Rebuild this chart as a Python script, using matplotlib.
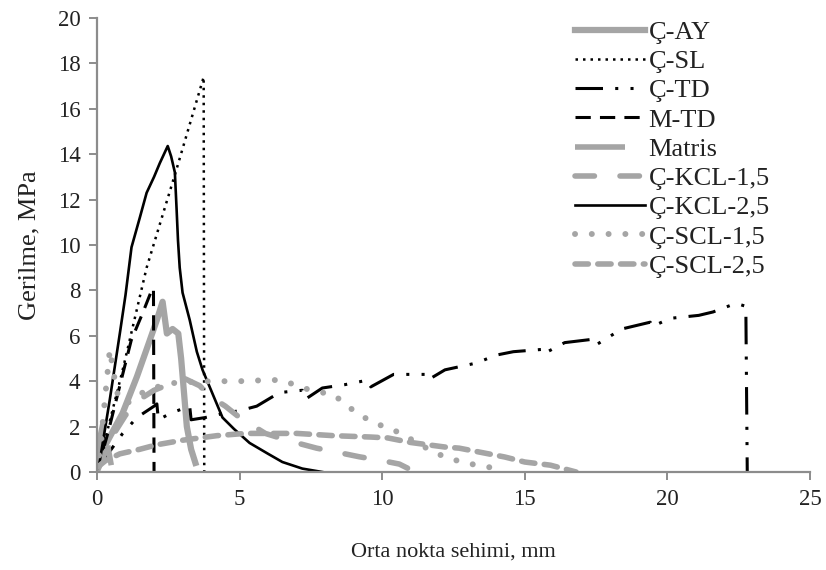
import matplotlib.pyplot as plt

plt.rcParams['font.family'] = ['Liberation Serif', 'DejaVu Serif']

GRAY = '#a5a5a5'
AXC = '#8c8c8c'
TXT = '#222222'

# Ç-AY
ay_x = [0, 0.3, 0.9, 1.4, 1.85, 2.1, 2.3, 2.45, 2.65, 2.85, 2.95, 3.05, 3.15, 3.3, 3.45]
ay_y = [0.3, 1.2, 2.6, 4.2, 5.8, 6.7, 7.5, 6.1, 6.3, 6.1, 5.0, 3.5, 2.0, 1.0, 0.4]
# Ç-SL
sl_x = [0, 0.2, 0.92, 1.74, 2.78, 3.74, 3.76]
sl_y = [0, 1.0, 4.6, 9.0, 13.3, 17.4, 0]
# Ç-TD
td_x = [0, 0.5, 0.9, 1.4, 2.0, 2.1, 2.15, 2.6, 3.25, 3.3, 3.8, 4.5, 5.0, 5.6, 6.4, 7.2, 7.3,
        7.9, 8.7, 9.5, 9.6, 10.4, 11.5, 11.6, 12.2, 13.3, 14.0, 14.6, 15.6, 15.65, 16.4,
        17.4, 17.5, 18.4, 19.4, 19.45, 20.1, 21.1, 21.6, 22.4, 22.75, 22.8]
td_y = [0.2, 1.0, 1.7, 2.4, 2.9, 3.0, 2.3, 2.6, 2.9, 2.3, 2.4, 2.6, 2.7, 2.9, 3.5, 3.6, 3.2,
        3.7, 3.85, 4.05, 3.75, 4.3, 4.3, 4.05, 4.5, 4.8, 5.15, 5.3, 5.4, 5.2, 5.7,
        5.85, 5.6, 6.3, 6.6, 6.4, 6.77, 6.9, 7.05, 7.43, 7.3, 0]
# M-TD
mtd_x = [0, 0.4, 0.8, 1.2, 1.6, 1.9, 1.98, 2.0]
mtd_y = [0, 1.8, 3.8, 5.8, 7.0, 7.95, 8.1, 0]
# Matris
mat_x = [0, 0.1, 0.2, 0.3, 0.4, 0.5]
mat_y = [0, 1.5, 2.1, 1.8, 1.0, 0.3]
# Ç-KCL-1,5
kcl15_x = [0, 0.5, 1.0, 1.5, 2.0, 2.6, 3.1, 3.6, 4.0, 4.5, 5.0, 5.9, 6.8, 7.7, 8.5, 9.2,
           10.0, 10.6, 11.0]
kcl15_y = [0, 1.5, 2.5, 3.2, 3.6, 3.9, 4.1, 3.8, 3.3, 2.9, 2.4, 1.7, 1.35, 1.05, 0.85, 0.67,
           0.5, 0.35, 0.1]
# Ç-KCL-2,5
kcl25_x = [0, 0.1, 0.45, 0.8, 1.0, 1.21, 1.5, 1.74, 2.0, 2.2, 2.48, 2.6, 2.73, 2.79, 2.84,
           2.9, 3.0, 3.25, 3.5, 3.7, 4.0, 4.4, 4.8, 5.35, 6.0, 6.5, 7.2, 7.9]
kcl25_y = [0, 0.5, 3.2, 6.1, 7.8, 9.9, 11.2, 12.3, 13.0, 13.6, 14.36, 13.9, 13.2, 11.6, 10.2,
           9.0, 7.9, 6.7, 5.3, 4.5, 3.6, 2.4, 1.9, 1.28, 0.8, 0.44, 0.15, 0.0]
# Ç-SCL-1,5
scl15_x = [0, 0.15, 0.3, 0.45, 0.55, 0.7, 1.0, 1.3, 1.6, 2.0, 2.5, 3.0, 4.0, 5.0, 6.0, 6.5,
           7.0, 7.5, 8.3, 8.8, 9.2, 9.8, 10.2, 10.6, 11.2, 11.7, 12.2, 12.9, 13.8, 14.1]
scl15_y = [0, 1.5, 3.5, 5.4, 4.6, 3.5, 3.0, 3.2, 3.5, 3.7, 3.9, 3.95, 4.0, 4.0, 4.05, 4.05,
           3.8, 3.6, 3.4, 2.9, 2.5, 2.15, 1.9, 1.75, 1.3, 0.95, 0.66, 0.4, 0.2, 0.05]
# Ç-SCL-2,5
scl25_x = [0, 0.3, 0.8, 1.5, 2.1, 3.0, 3.6, 4.2, 5.2, 6.0, 7.0, 8.3, 9.6, 10.2, 11.0, 12.2,
           12.7, 13.4, 14.3, 15.0, 15.9, 16.5, 16.8]
scl25_y = [0.2, 0.5, 0.8, 1.0, 1.2, 1.4, 1.5, 1.6, 1.7, 1.7, 1.7, 1.6, 1.54, 1.5, 1.3, 1.1,
           1.05, 0.88, 0.66, 0.44, 0.3, 0.1, 0.0]

fig = plt.figure(figsize=(8.26, 5.7), dpi=100)
ax = fig.add_axes([97 / 826, 1 - 472 / 570, 713 / 826, 454 / 570])

ax.plot(ay_x, ay_y, color=GRAY, lw=4.5, label='Ç-AY')
ax.plot(sl_x, sl_y, color='black', lw=1.8, ls=(0, (1, 2)), label='Ç-SL')
ax.plot(td_x, td_y, color='black', lw=2.2, ls=(0, (9, 4, 1, 4, 1, 4)), label='Ç-TD')
ax.plot(mtd_x, mtd_y, color='black', lw=2.2, ls=(0, (5, 3)), label='M-TD')
ax.plot(mat_x, mat_y, color=GRAY, lw=4, ls=(0, (9, 3.6)), label='Matris')
ax.plot(kcl15_x, kcl15_y, color=GRAY, lw=4, ls=(0, (3.5, 4.6)),
        dash_capstyle='round', label='Ç-KCL-1,5')
ax.plot(kcl25_x, kcl25_y, color='black', lw=1.9, label='Ç-KCL-2,5')
ax.plot(scl15_x, scl15_y, color=GRAY, lw=4.3, ls=(0, (0.01, 2.8)),
        dash_capstyle='round', label='Ç-SCL-1,5')
ax.plot(scl25_x, scl25_y, color=GRAY, lw=4, ls=(0, (2.4, 1.7)),
        dash_capstyle='round', label='Ç-SCL-2,5')

ax.set_xlim(0, 25)
ax.set_ylim(0, 20)
ax.set_xticks(range(0, 26, 5))
ax.set_yticks(range(0, 21, 2))
for s in ['top', 'right']:
    ax.spines[s].set_visible(False)
for s in ['left', 'bottom']:
    ax.spines[s].set_color(AXC)
    ax.spines[s].set_linewidth(1.6)
ax.tick_params(direction='out', length=6, width=1.4, color=AXC, labelsize=16.5,
               labelcolor=TXT, pad=6)

ax.set_xlabel('Orta nokta sehimi, mm', fontsize=16, color=TXT, labelpad=24)
ax.set_ylabel('Gerilme, MPa', fontsize=19, color=TXT, labelpad=12)

ax.legend(loc='upper left', bbox_to_anchor=(0.67, 0.995), frameon=False, fontsize=19,
          handlelength=2.65, handletextpad=0.15, labelspacing=0.22, borderpad=0,
          borderaxespad=0, labelcolor=TXT)

fig.savefig('out.png', dpi=100)
